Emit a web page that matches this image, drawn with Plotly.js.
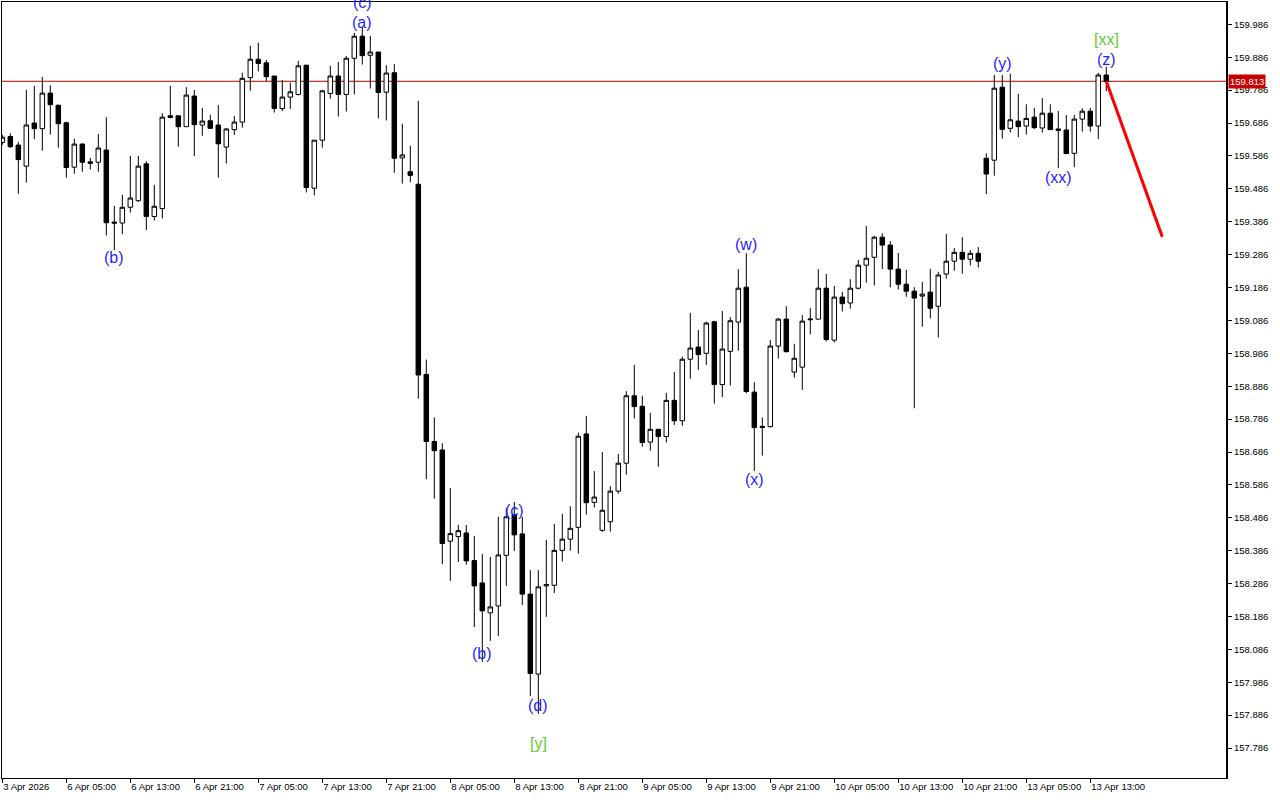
<!DOCTYPE html>
<html>
<head>
<meta charset="utf-8">
<script src="https://cdn.plot.ly/plotly-3.0.1.min.js"></script>
<style>html,body{margin:0;padding:0;background:#fff;}#chart{width:1280px;height:800px;}</style>
</head>
<body>
<div id="chart"></div>
<script>
// Hourly bars, USDJPY-like price (bar index 0..138)
const openP = [159.627,159.645,159.619,159.555,159.686,159.669,159.777,159.740,159.687,159.552,
159.622,159.568,159.567,159.604,159.385,159.382,159.430,159.450,159.562,159.402,
159.426,159.708,159.708,159.675,159.768,159.680,159.693,159.680,159.613,159.666,
159.689,159.824,159.880,159.869,159.829,159.730,159.765,159.773,159.862,159.488,
159.634,159.776,159.829,159.773,159.883,159.950,159.892,159.902,159.780,159.839,
159.580,159.538,159.500,158.922,158.718,158.692,158.415,158.429,158.440,158.356,
158.288,158.197,158.218,158.372,158.495,158.437,158.254,158.011,158.279,158.281,
158.387,158.421,158.457,158.741,158.533,158.448,158.474,158.567,158.652,158.857,
158.825,158.716,158.755,158.733,158.843,158.781,158.968,159.005,158.986,159.082,
158.891,158.992,159.081,159.187,158.868,158.764,158.763,159.008,159.090,158.929,
158.944,159.088,159.090,159.184,159.026,159.157,159.139,159.184,159.254,159.278,
159.339,159.315,159.242,159.196,159.175,159.160,159.172,159.129,159.227,159.266,
159.293,159.272,159.290,159.579,159.573,159.795,159.670,159.692,159.677,159.704,
159.671,159.716,159.668,159.665,159.594,159.698,159.722,159.677,159.832];
const highP = [159.650,159.655,159.629,159.787,159.799,159.826,159.801,159.742,159.690,159.638,
159.625,159.580,159.653,159.704,159.434,159.468,159.586,159.586,159.570,159.498,
159.716,159.799,159.708,159.795,159.787,159.732,159.711,159.741,159.671,159.708,
159.839,159.921,159.930,159.878,159.829,159.817,159.809,159.875,159.862,159.634,
159.787,159.860,159.872,159.890,159.960,159.979,159.951,159.902,159.862,159.865,
159.684,159.617,159.754,158.967,158.791,158.713,158.576,158.465,158.464,158.431,
158.376,158.367,158.489,158.516,158.534,158.489,158.327,158.327,158.419,158.467,
158.498,158.521,158.745,158.796,158.628,158.686,158.582,158.680,158.871,158.951,
158.857,158.805,158.755,158.866,158.929,158.976,159.109,159.057,159.082,159.085,
159.115,159.096,159.242,159.290,158.898,158.791,159.027,159.093,159.129,159.015,
159.102,159.123,159.242,159.227,159.191,159.173,159.211,159.270,159.373,159.343,
159.351,159.327,159.291,159.240,159.187,159.203,159.243,159.234,159.349,159.306,
159.339,159.300,159.309,159.594,159.832,159.832,159.836,159.775,159.743,159.732,
159.762,159.743,159.723,159.710,159.711,159.731,159.732,159.839,159.857];
const lowP = [159.620,159.611,159.471,159.505,159.637,159.602,159.651,159.611,159.520,159.532,
159.538,159.545,159.538,159.344,159.300,159.348,159.414,159.446,159.361,159.390,
159.396,159.700,159.614,159.675,159.586,159.647,159.668,159.520,159.563,159.650,
159.672,159.784,159.843,159.814,159.718,159.722,159.729,159.770,159.475,159.466,
159.611,159.760,159.706,159.721,159.773,159.864,159.791,159.700,159.694,159.535,
159.502,159.506,158.848,158.603,158.544,158.345,158.294,158.352,158.343,158.154,
158.048,158.112,158.127,158.279,158.385,158.221,157.944,157.890,158.185,158.257,
158.353,158.386,158.377,158.496,158.517,158.443,158.444,158.559,158.617,158.788,
158.702,158.690,158.641,158.715,158.768,158.766,158.909,158.936,158.951,158.833,
158.853,158.888,158.994,158.865,158.628,158.675,158.761,158.970,158.989,158.912,
158.875,159.044,159.088,159.022,159.019,159.113,159.122,159.180,159.201,159.192,
159.242,159.186,159.180,159.158,158.819,159.067,159.092,159.034,159.213,159.237,
159.228,159.253,159.247,159.470,159.526,159.639,159.657,159.643,159.651,159.668,
159.657,159.665,159.549,159.593,159.552,159.660,159.660,159.637,159.783];
const closeP = [159.643,159.614,159.575,159.680,159.669,159.777,159.742,159.684,159.551,159.622,
159.567,159.564,159.610,159.383,159.382,159.430,159.458,159.555,159.402,159.433,
159.704,159.703,159.675,159.771,159.681,159.692,159.670,159.623,159.668,159.689,
159.822,159.880,159.867,159.827,159.730,159.765,159.781,159.860,159.490,159.634,
159.784,159.829,159.773,159.883,159.950,159.891,159.902,159.779,159.838,159.579,
159.589,159.527,158.920,158.718,158.690,158.408,158.438,158.447,158.355,158.279,
158.203,158.215,158.373,158.489,158.434,158.254,158.013,158.276,158.283,158.387,
158.421,158.454,158.734,158.532,158.549,158.509,158.567,158.652,158.857,158.824,
158.715,158.755,158.733,158.843,158.781,158.968,159.002,158.982,159.078,158.891,
158.999,159.085,159.184,158.870,158.760,158.761,159.008,159.090,158.991,158.971,
159.084,159.090,159.184,159.028,159.157,159.137,159.184,159.254,159.275,159.339,
159.315,159.242,159.196,159.175,159.154,159.166,159.123,159.224,159.266,159.293,
159.272,159.290,159.266,159.531,159.792,159.667,159.696,159.675,159.700,159.672,
159.716,159.666,159.664,159.593,159.698,159.722,159.677,159.832,159.813];

const xTickLabels = ['3 Apr 2026','6 Apr 05:00','6 Apr 13:00','6 Apr 21:00','7 Apr 05:00','7 Apr 13:00',
  '7 Apr 21:00','8 Apr 05:00','8 Apr 13:00','8 Apr 21:00','9 Apr 05:00','9 Apr 13:00','9 Apr 21:00',
  '10 Apr 05:00','10 Apr 13:00','10 Apr 21:00','13 Apr 05:00','13 Apr 13:00'];
const barsPerXTick = 8;
const yTickLabels = ['159.986','159.886','159.786','159.686','159.586','159.486','159.386','159.286',
  '159.186','159.086','158.986','158.886','158.786','158.686','158.586','158.486','158.386','158.286',
  '158.186','158.086','157.986','157.886','157.786'];

const currentPrice = 159.813;
const projBars = [138, 145];
const projPrices = [159.813, 159.340];

const waveText  = ['(c)','(a)','(b)','(b)','(c)','(d)','[y]','(w)','(x)','(y)','(xx)','[xx]','(z)'];
const waveBar   = [45, 45, 14, 60, 64, 67, 67, 93, 94, 125, 132, 138, 138];
const wavePrice = [160.053,159.992,159.278,158.074,158.507,157.916,157.799,159.316,158.601,159.866,159.521,159.941,159.879];
const waveColor = ['#1f1fff','#1f1fff','#1f1fff','#1f1fff','#1f1fff','#1f1fff','#66cc33','#1f1fff','#1f1fff','#1f1fff','#1f1fff','#66cc33','#1f1fff'];

const bars = openP.map((_, i) => i);
const FONT = 'Liberation Sans, Arial, sans-serif';

const traces = [
  {
    type: 'candlestick', x: bars, open: openP, high: highP, low: lowP, close: closeP,
    increasing: {line: {color: '#000', width: 1}, fillcolor: '#ffffff'},
    decreasing: {line: {color: '#000', width: 1}, fillcolor: '#000000'},
    whiskerwidth: 0, hoverinfo: 'skip', showlegend: false
  },
  {
    type: 'scatter', mode: 'lines', x: projBars, y: projPrices,
    line: {color: '#ff0000', width: 3}, hoverinfo: 'skip', showlegend: false
  }
];

const annotations = waveText.map((t, i) => ({
  x: waveBar[i], y: wavePrice[i], xref: 'x', yref: 'y', text: t, showarrow: false,
  font: {family: FONT, size: 16, color: waveColor[i]}, xanchor: 'center', yanchor: 'middle'
}));
annotations.push({
  x: 1, xref: 'paper', y: currentPrice, yref: 'y', text: currentPrice.toFixed(3), showarrow: false,
  xanchor: 'left', yanchor: 'middle', xshift: 1, bgcolor: '#c80000', borderpad: 1,
  font: {family: FONT, size: 9.5, color: '#ffffff'}
});

const layout = {
  width: 1280, height: 800,
  margin: {l: 2, r: 53, t: 2, b: 22, pad: 0},
  paper_bgcolor: '#ffffff', plot_bgcolor: '#ffffff',
  showlegend: false, dragmode: false, hovermode: false,
  boxgap: 0.25, boxgroupgap: 0.25,
  xaxis: {
    range: [-0.04, 153.09], showgrid: false, zeroline: false,
    showline: true, mirror: true, linecolor: '#000', linewidth: 1,
    tickmode: 'array', tickvals: xTickLabels.map((_, i) => i * barsPerXTick), ticktext: xTickLabels,
    ticks: 'outside', ticklen: 4, tickcolor: '#000', ticklabelposition: 'outside right',
    tickfont: {family: FONT, size: 9.5, color: '#000'},
    rangeslider: {visible: false}, fixedrange: true
  },
  yaxis: {
    side: 'right', range: [157.695, 160.054], showgrid: false, zeroline: false,
    showline: true, mirror: true, linecolor: '#000', linewidth: 1,
    tickmode: 'array', tickvals: yTickLabels.map(Number), ticktext: yTickLabels,
    ticks: 'outside', ticklen: 4, tickcolor: '#000',
    tickfont: {family: FONT, size: 9.5, color: '#000'}, fixedrange: true
  },
  shapes: [
    {type: 'line', xref: 'paper', x0: 0, x1: 1, yref: 'y', y0: currentPrice, y1: currentPrice,
     line: {color: '#b00000', width: 1}, layer: 'below'},
    {type: 'line', xref: 'paper', x0: 1, x1: 1, yref: 'paper', y0: 0, y1: 1,
     line: {color: '#000', width: 2}}
  ],
  annotations: annotations
};

Plotly.newPlot('chart', traces, layout, {staticPlot: true, displayModeBar: false});
</script>
</body>
</html>
